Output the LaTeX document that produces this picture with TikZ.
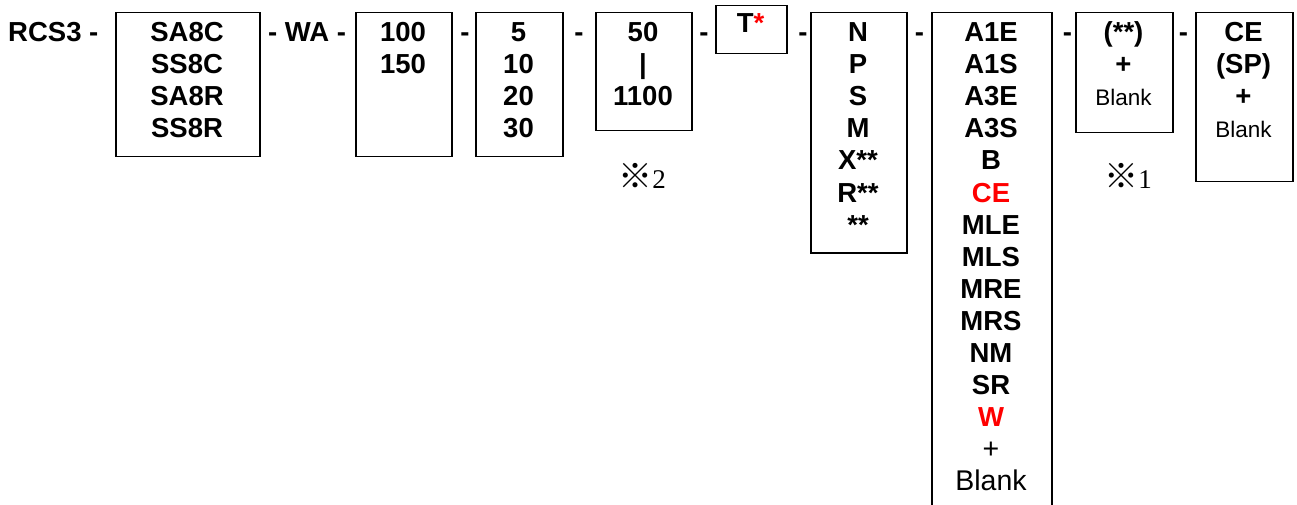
\documentclass[tikz,border=0pt]{standalone}
\usepackage{fontspec}
\setmainfont{Liberation Sans}
\newfontfamily\cjkjp{Noto Sans CJK JP}
\newfontfamily\tnr{Liberation Serif}
\begin{document}
\begin{tikzpicture}[x=1pt,y=-1pt,
  box/.style={draw, line width=1.5pt, inner sep=0pt, anchor=north west},
  lbl/.style={anchor=base, inner sep=0pt, font=\fontsize{27.5}{32}\selectfont\bfseries},
  reg/.style={anchor=base, inner sep=0pt, font=\fontsize{22.5}{32}\selectfont},
  regbig/.style={anchor=base, inner sep=0pt, font=\fontsize{28.5}{32}\selectfont},
  note/.style={anchor=base, inner sep=0pt, font=\fontsize{27}{32}\selectfont}]
\useasboundingbox (0,0) rectangle (1297,505);
\clip (0,0) rectangle (1297,505);
% boxes
\node[box, minimum width=144pt, minimum height=144pt] (b1) at (115,12) {};
\node[box, minimum width=96pt,  minimum height=144pt] (b2) at (355,12) {};
\node[box, minimum width=87pt,  minimum height=144pt] (b3) at (475,12) {};
\node[box, minimum width=96pt,  minimum height=118pt] (b4) at (595,12) {};
\node[box, minimum width=71pt,  minimum height=48pt]  (b5) at (715,5) {};
\node[box, minimum width=96pt,  minimum height=240pt] (b6) at (810,12) {};
\node[box, minimum width=120pt, minimum height=530pt] (b7) at (931,12) {};
\node[box, minimum width=97pt,  minimum height=120pt] (b8) at (1075,12) {};
\node[box, minimum width=97pt,  minimum height=169pt] (b9) at (1195,12) {};
% separators
\node[lbl, anchor=base west] (s0) at (8,42) {RCS3 -};
\node[lbl, anchor=base west] (s1) at (268,42) {- WA -};
\node[lbl] (s2) at (465,42) {-};
\node[lbl] (s3) at (579,42) {-};
\node[lbl] (s4) at (704,42) {-};
\node[lbl] (s5) at (803,42) {-};
\node[lbl] (s6) at (919.5,42) {-};
\node[lbl] (s7) at (1067.5,42) {-};
\node[lbl] (s8) at (1183.5,42) {-};
% box contents
\foreach \t [count=\i] in {SA8C,SS8C,SA8R,SS8R}
  \node[lbl] (t1-\i) at (187,{42+32*(\i-1)}) {\t};
\foreach \t [count=\i] in {100,150}
  \node[lbl] (t2-\i) at (403,{42+32*(\i-1)}) {\t};
\foreach \t [count=\i] in {5,10,20,30}
  \node[lbl] (t3-\i) at (518.5,{42+32*(\i-1)}) {\t};
\foreach \t [count=\i] in {50,|,1100}
  \node[lbl] (t4-\i) at (643,{42+32*(\i-1)}) {\t};
\node[lbl] (t5-1) at (750.5,33) {T\textcolor{red}{*}};
\foreach \t [count=\i] in {N,P,S,M,X**,R**,**}
  \node[lbl] (t6-\i) at (858,{42+32*(\i-1)}) {\t};
\foreach \t [count=\i] in {A1E,A1S,A3E,A3S,B,{\color{red}CE},MLE,MLS,MRE,MRS,NM,SR,{\color{red}W}}
  \node[lbl] (t7-\i) at (991,{42+32*(\i-1)}) {\t};
\node[regbig] (t7-14) at (991,458) {+};
\node[regbig] (t7-15) at (991,490) {Blank};
\node[lbl] (t8-1) at (1123.5,42) {(**)};
\node[lbl] (t8-2) at (1123.5,74) {+};
\node[reg]  (t8-3) at (1123.5,106) {Blank};
\node[lbl] (t9-1) at (1243.5,42) {CE};
\node[lbl] (t9-2) at (1243.5,74) {(SP)};
\node[lbl] (t9-3) at (1243.5,106) {+};
\node[reg]  (t9-4) at (1243.5,138) {Blank};
% notes
\node[note] (n2) at (642,188) {{\cjkjp\fontsize{34}{32}\selectfont ※}{\tnr 2}};
\node[note] (n1) at (1128,188) {{\cjkjp\fontsize{34}{32}\selectfont ※}{\tnr 1}};
\end{tikzpicture}
\end{document}
